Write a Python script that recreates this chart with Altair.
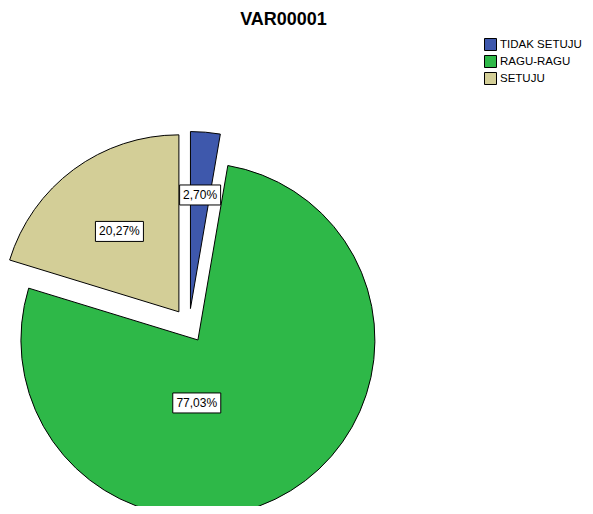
import altair as alt
import pandas as pd

# ---- data ----
categories = ["TIDAK SETUJU", "RAGU-RAGU", "SETUJU"]
counts = [2, 57, 15]
colors = ["#3E58AC", "#2EB848", "#D3CE97"]

# ---- style / geometry ----
CX, CY = 181, 287.5      # pie centre (plot-area pixels)
EXPLODE = 17             # radial offset of each slice
R = 177                  # pie radius
FONT = "Liberation Sans"

df = pd.DataFrame({"cat": categories, "count": counts, "order": list(range(len(categories)))})

lab_r = "(datum.cat == 'TIDAK SETUJU' ? 114 : datum.cat == 'SETUJU' ? 100 : 63)"
lab_a = "(datum.pct > 50 ? datum.mid + 0.57 : datum.mid)"

base = (
    alt.Chart(df)
    .transform_joinaggregate(total="sum(count)")
    .transform_window(cum="sum(count)", sort=[alt.SortField("order")], frame=[None, 0])
    .transform_calculate(
        start="2*PI*(datum.cum - datum.count)/datum.total",
        end="2*PI*datum.cum/datum.total",
        pct="100*datum.count/datum.total",
    )
    .transform_calculate(mid="(datum.start + datum.end)/2")
    .transform_calculate(
        ax=f"{CX} + {EXPLODE}*sin(datum.mid)",
        ay=f"{CY} - {EXPLODE}*cos(datum.mid)",
        label="replace(format(datum.pct, '.2f'), '.', ',') + '%'",
    )
    .transform_calculate(
        lx=f"datum.ax + {lab_r}*sin({lab_a})",
        ly=f"datum.ay - {lab_r}*cos({lab_a})",
    )
    .transform_calculate(
        bw="7*length(datum.label) + 6",
    )
    .transform_calculate(
        bx1="datum.lx - datum.bw/2",
        bx2="datum.lx + datum.bw/2",
        by1="datum.ly - 10",
        by2="datum.ly + 10",
    )
)

arcs = base.mark_arc(stroke="black", strokeWidth=1, radius=R).encode(
    x=alt.X("ax:Q", scale=None),
    y=alt.Y("ay:Q", scale=None),
    theta=alt.Theta("start:Q", scale=None),
    theta2="end:Q",
    color=alt.Color(
        "cat:N",
        scale=alt.Scale(domain=categories, range=colors),
        sort=None,
        legend=alt.Legend(
            title=None,
            orient="none",
            legendX=476,
            legendY=0,
            symbolType="square",
            symbolSize=144,
            symbolStrokeColor="black",
            symbolStrokeWidth=1,
            symbolOpacity=1,
            labelFont=FONT,
            labelFontSize=11.5,
            labelColor="black",
            labelOffset=3,
            rowPadding=0,
        ),
    ),
)

boxes = base.mark_rect(fill="white", stroke="black", strokeWidth=1).encode(
    x=alt.X("bx1:Q", scale=None),
    x2="bx2:Q",
    y=alt.Y("by1:Q", scale=None),
    y2="by2:Q",
)

texts = base.mark_text(font=FONT, fontSize=12, color="black", align="center", baseline="middle").encode(
    x=alt.X("lx:Q", scale=None),
    y=alt.Y("ly:Q", scale=None),
    text="label:N",
)

chart = (
    alt.layer(arcs, boxes, texts)
    .properties(
        width=569,
        height=468,
        padding={"left": 0, "top": 30, "right": 8, "bottom": 0},
        autosize=alt.AutoSizeParams(type="none"),
        background="white",
        title=alt.TitleParams(
            "VAR00001",
            font=FONT,
            fontSize=18,
            fontWeight="bold",
            color="black",
            anchor="middle",
            dx=-9,
            offset=9,
        ),
    )
    .configure_view(strokeWidth=0)
)

chart.save("out.html", embed_options={"renderer": "svg", "actions": False})
